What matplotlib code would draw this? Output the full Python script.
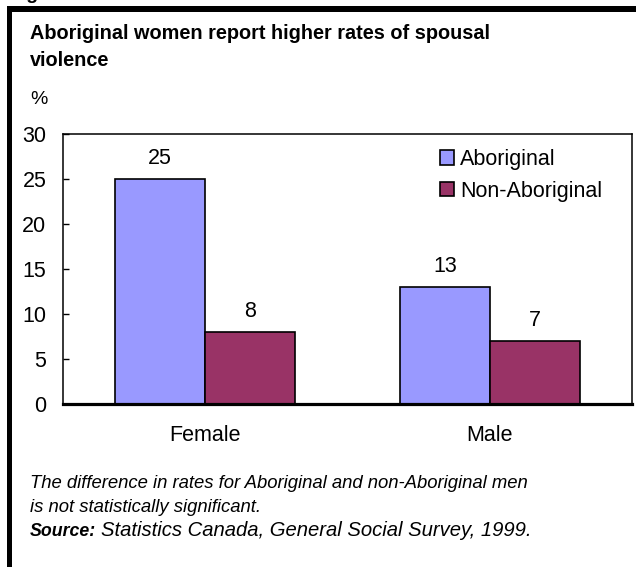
import numpy as np
import matplotlib
matplotlib.use('Agg')
import matplotlib.pyplot as plt
from matplotlib.patches import Rectangle

plt.rcParams['font.family'] = ['Liberation Sans', 'DejaVu Sans']

# data
categories = ['Female', 'Male']
aboriginal = [25, 13]
non_aboriginal = [8, 7]
series_names = ['Aboriginal', 'Non-Aboriginal']
yticks = [0, 5, 10, 15, 20, 25, 30]

W, H = 636, 567
fig = plt.figure(figsize=(W / 100, H / 100), dpi=100)

def fx(px):
    return px / W

def fy(py):
    return 1 - py / H

# black frame on left and top
fig.add_artist(Rectangle((fx(7), 0), fx(5), fy(6), transform=fig.transFigure,
                         color='black', lw=0))
fig.add_artist(Rectangle((fx(7), fy(12)), 1 - fx(7), 6 / H, transform=fig.transFigure,
                         color='black', lw=0))
fig.text(fx(10), fy(-1), 'Figure', fontsize=14, fontweight='bold', va='baseline')

ax = fig.add_axes([fx(63), fy(404), fx(632) - fx(63), fy(134) - fy(404)])

x = np.arange(len(categories))
w = 0.316
b1 = ax.bar(x - w / 2, aboriginal, w, color='#9999FF', edgecolor='black', lw=1.2,
            label=series_names[0])
b2 = ax.bar(x + w / 2, non_aboriginal, w, color='#993366', edgecolor='black', lw=1.2,
            label=series_names[1])
ax.bar_label(b1, padding=7, fontsize=15.5)
ax.bar_label(b2, padding=7, fontsize=15.5)

ax.set_xlim(-0.5, 1.5)
ax.set_ylim(0, 30)
ax.set_yticks(yticks)
ax.set_xticks(x)
ax.set_xticklabels(categories)
ax.tick_params(axis='y', direction='in', length=4, width=1, labelsize=15.5, pad=12)
ax.tick_params(axis='x', length=0, labelsize=15.5, pad=15)
for s in ['left', 'top', 'right']:
    ax.spines[s].set_linewidth(1.1)
ax.spines['bottom'].set_linewidth(2.3)

ax.legend(loc='upper left', bbox_to_anchor=(fx(440), fy(149)), bbox_transform=fig.transFigure,
          frameon=False, fontsize=15.5, borderpad=0, borderaxespad=0, handlelength=0.66,
          handleheight=0.66, handletextpad=0.28, labelspacing=0.5)

fig.text(fx(30), fy(39), 'Aboriginal women report higher rates of spousal',
         fontsize=14.3, fontweight='bold', va='baseline')
fig.text(fx(30), fy(66), 'violence', fontsize=14.3, fontweight='bold', va='baseline')
fig.text(fx(30), fy(100), '%', fontsize=14, va='center')

fig.text(fx(30), fy(483), 'The difference in rates for Aboriginal and non-Aboriginal men',
         fontsize=13.3, style='italic', va='center')
fig.text(fx(30), fy(508), 'is not statistically significant.', fontsize=13.3, style='italic',
         va='center')
fig.text(fx(30), fy(531), 'Source:', fontsize=12.8, style='italic', fontweight='bold', va='center')
fig.text(fx(101), fy(530), 'Statistics Canada, General Social Survey, 1999.', fontsize=14.6,
         style='italic', va='center')

fig.savefig('out.png', dpi=100)
